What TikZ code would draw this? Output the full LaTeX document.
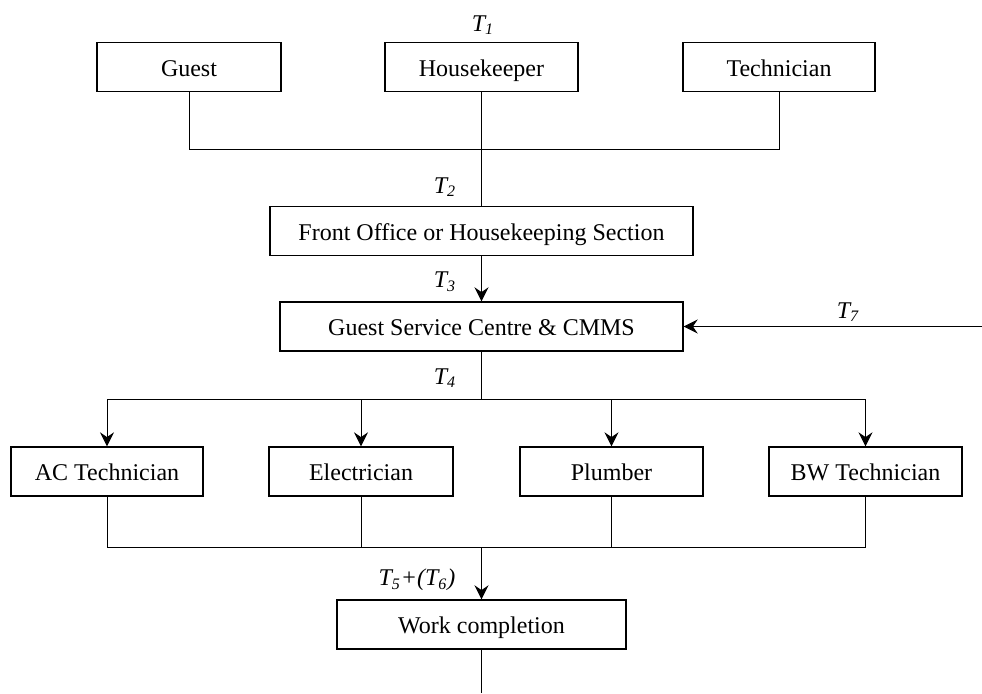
\documentclass[tikz,border=0pt]{standalone}
\usepackage{fontspec}
\setmainfont{Liberation Serif}
\usetikzlibrary{arrows.meta}

\begin{document}
\begin{tikzpicture}[x=0.5pt, y=-0.5pt, font=\fontsize{12}{14}\selectfont,
  box/.style={draw, line width=0.7pt, inner sep=0pt, minimum height=24.5pt,
    text height=10pt, text depth=1pt},
  link/.style={line width=0.5pt},
  trunk/.style={line width=0.75pt},
  flow/.style={-{Stealth[length=7pt, width=7pt, inset=2.4pt]}},
  tlabel/.style={font=\fontsize{12}{14}\selectfont\itshape}]
\useasboundingbox (0,0) rectangle (982,693);

% sources
\node[box, minimum width=92pt]   (guest) at (189,67)   {Guest};
\node[box, minimum width=96.5pt] (hk)    at (481.5,67) {Housekeeper};
\node[box, minimum width=96pt]   (tech)  at (779,67)   {Technician};

\node[box, minimum width=211.5pt] (fo)  at (481.5,231)   {Front Office or Housekeeping Section};
\node[box, minimum width=201.5pt] (gsc) at (481.5,326.5) {Guest Service Centre \& CMMS};

% trades
\node[box, minimum width=96pt]   (ac)   at (107,471.5)   {AC Technician};
\node[box, minimum width=92pt]   (elec) at (361,471.5)   {Electrician};
\node[box, minimum width=91.5pt] (plum) at (611.5,471.5) {Plumber};
\node[box, minimum width=96.5pt] (bw)   at (865.5,471.5) {BW Technician};

\node[box, minimum width=144.5pt] (work) at (481.5,624.5) {Work completion};

% time labels
\node[tlabel] (t1) at (483,25)  {T\textsubscript{1}};
\node[tlabel] (t2) at (445,187) {T\textsubscript{2}};
\node[tlabel] (t3) at (445,282) {T\textsubscript{3}};
\node[tlabel] (t4) at (445,378) {T\textsubscript{4}};
\node[tlabel] (t7) at (848,312) {T\textsubscript{7}};
\node[tlabel] (t56) at (417,580) {T\textsubscript{5}+(T\textsubscript{6})};

\coordinate (top)   at (481.5,149);
\coordinate (split) at (481.5,399);
\coordinate (join)  at (481.5,547);
\coordinate (feed)  at (982,326.5);
\coordinate (out)   at (481.5,693);

% connectors
\draw[link] (guest.south) |- (top) -| (tech.south);
\draw[trunk] (hk.south) -- (fo.north);
\draw[trunk, flow] (fo.south) -- (gsc.north);
\draw[link, flow] (feed) -- (gsc.east);
\draw[trunk] (gsc.south) -- (split);
\draw[link] (ac.north |- split) -- (bw.north |- split);
\foreach \t in {ac, elec, plum, bw}
  \draw[link, flow] (\t.north |- split) -- (\t.north);
\draw[link] (ac.south) |- (join) -| (bw.south);
\draw[link] (elec.south) -- (elec.south |- join);
\draw[link] (plum.south) -- (plum.south |- join);
\draw[trunk, flow] (join) -- (work.north);
\draw[link] (work.south) -- (out);

\end{tikzpicture}
\end{document}
